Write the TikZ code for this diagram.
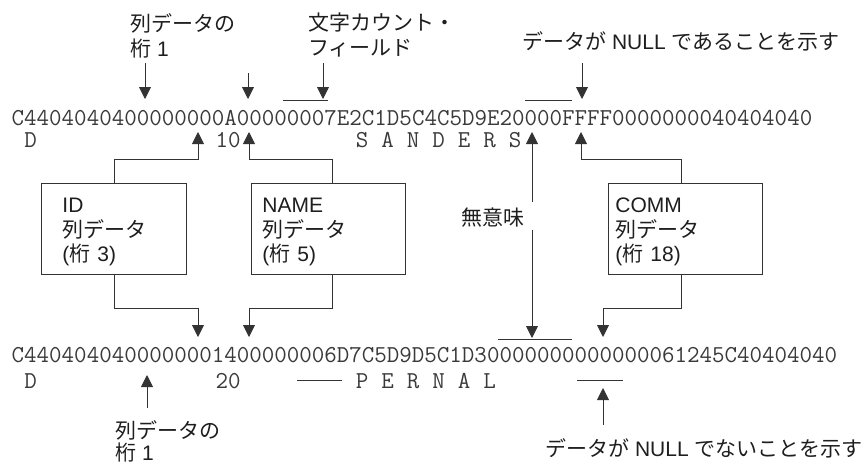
\documentclass[tikz,border=0pt]{standalone}
\usepackage{fontspec}
\setmainfont{Liberation Sans}
\newfontfamily\jpfont{Noto Sans CJK JP}
\usetikzlibrary{arrows.meta}
\definecolor{ink}{HTML}{1E1E1E}
\definecolor{hexink}{HTML}{3A3A3A}
\definecolor{wire}{HTML}{333333}
% left edge of the first monospace cell and the cell width
\newcommand\cellx[1]{11.5+12.75*#1}
% raises the first line of a box so the three lines sit a little lower
\newcommand\firstline{\rule{0pt}{21pt}}

\begin{document}
\begin{tikzpicture}[x=1pt,y=-1pt,
  hexrow/.style={font=\ttfamily\fontsize{24.29}{28}\selectfont, text=hexink, inner sep=0pt, anchor=base west},
  lbl/.style={font=\fontsize{21}{25}\selectfont, text=ink, inner sep=0pt, align=left, anchor=north west},
  wire/.style={draw=wire, line width=0.9pt},
  arr/.style={wire, -{Triangle[width=12pt,length=12pt]}},
  colbox/.style={draw=wire, line width=0.9pt, fill=white, anchor=north west,
    minimum height=91pt, inner ysep=0pt, align=left,
    font=\fontsize{21}{24.5}\selectfont, text=ink},
]
\useasboundingbox (0,0) rectangle (866,466);

% ---- upper record ----
\node[hexrow] (hexA) at (11.5,125) {C4404040400000000A00000007E2C1D5C4C5D9E20000FFFF0000000040404040};
\foreach \i/\c [count=\k] in {1/D,16/10,27/S,29/A,31/N,33/D,35/E,37/R,39/S}
  \node[hexrow] (rowA\k) at ({\cellx{\i}},147) {\c};

% ---- lower record ----
\node[hexrow] (hexB) at (11.5,362) {C4404040400000001400000006D7C5D9D5C1D30000000000000061245C40404040};
\foreach \i/\c [count=\k] in {1/D,16/20,27/P,29/E,31/R,33/N,35/A,37/L}
  \node[hexrow] (rowB\k) at ({\cellx{\i}},388) {\c};

% ---- top labels ----
\node[lbl] (colTop) at (130,13) {{\jpfont 列データの}\\{\jpfont 桁} 1};
\node[lbl] (countLab) at (308,13) {{\jpfont 文字カウント・}\\{\jpfont フィールド}};
\node[lbl] (nullLab) at (522,31) {{\jpfont データが} NULL {\jpfont であることを示す}};

% ---- bottom labels ----
\node[lbl, font=\fontsize{21}{22}\selectfont] (colBot) at (115,420) {{\jpfont 列データの}\\{\jpfont 桁} 1};
\node[lbl] (notNullLab) at (545,438) {{\jpfont データが} NULL {\jpfont でないことを示す}};

% ---- column boxes ----
\node[colbox, text width=103pt, inner xsep=21pt] (idbox) at (41,183)
  {\firstline ID\\{\jpfont 列データ}\\({\jpfont 桁} 3)};
\node[colbox, text width=132pt, inner xsep=11pt] (nmbox) at (251,183)
  {\firstline NAME\\{\jpfont 列データ}\\({\jpfont 桁} 5)};
\node[colbox, text width=140pt, inner xsep=7pt] (cmbox) at (608,183)
  {\firstline COMM\\{\jpfont 列データ}\\({\jpfont 桁} 18)};

% ---- marker lines over / under fields ----
\coordinate (cntL) at (283,100);  \coordinate (cntR) at (328,100);
\coordinate (nulL) at (525,100);  \coordinate (nulR) at (572,100);
\coordinate (gapL) at (498,339);  \coordinate (gapR) at (572,339);
\coordinate (lenL) at (297,380);  \coordinate (lenR) at (342,380);
\coordinate (nnL)  at (577,380);  \coordinate (nnR)  at (623,380);
\foreach \a/\b in {cntL/cntR,nulL/nulR,gapL/gapR,lenL/lenR,nnL/nnR}
  \draw[wire] (\a) -- (\b);

% ---- arrows from the top labels ----
\coordinate (colTopT) at (145,63);  \coordinate (colTopH) at (145,99);
\coordinate (aT) at (248,73);       \coordinate (aH) at (248,99);
\coordinate (cntT) at (323,63);     \coordinate (cntH) at (323,99);
\coordinate (nulT) at (582,63);     \coordinate (nulH) at (582,99);
\draw[arr] (colTopT) -- (colTopH);
\draw[arr] (aT) -- (aH);
\draw[arr] (cntT) -- (cntH);
\draw[arr] (nulT) -- (nulH);

% ---- box connectors ----
\coordinate (idUp) at (198,132);   \coordinate (idDn) at (198,337);
\coordinate (nmUp) at (249,132);   \coordinate (nmDn) at (249,337);
\coordinate (cmUp) at (581,132);   \coordinate (cmDn) at (603,337);
\draw[arr] (idbox.north) -- ++(0,-24) -| (idUp);
\draw[arr] (idbox.south) -- ++(0,34) -| (idDn);
\draw[arr] ([xshift=4pt]nmbox.north) -- ++(0,-24) -| (nmUp);
\draw[arr] ([xshift=4pt]nmbox.south) -- ++(0,34) -| (nmDn);
\draw[arr] ([xshift=-4pt]cmbox.north) -- ++(0,-24) -| (cmUp);
\draw[arr] ([xshift=-4pt]cmbox.south) -- ++(0,34) -| (cmDn);

% ---- meaningless span ----
\node[lbl, anchor=base east] (muimi) at (525,225) {\jpfont 無意味};
\coordinate (mTopT) at (532,202);  \coordinate (mTopH) at (532,132);
\coordinate (mBotT) at (532,230);  \coordinate (mBotH) at (532,338);
\draw[arr] (mTopT) -- (mTopH);
\draw[arr] (mBotT) -- (mBotH);

% ---- arrows from the bottom labels ----
\coordinate (colBotT) at (147,408); \coordinate (colBotH) at (147,375);
\coordinate (nnT) at (603,425);     \coordinate (nnH) at (603,388);
\draw[arr] (colBotT) -- (colBotH);
\draw[arr] (nnT) -- (nnH);
\end{tikzpicture}
\end{document}
